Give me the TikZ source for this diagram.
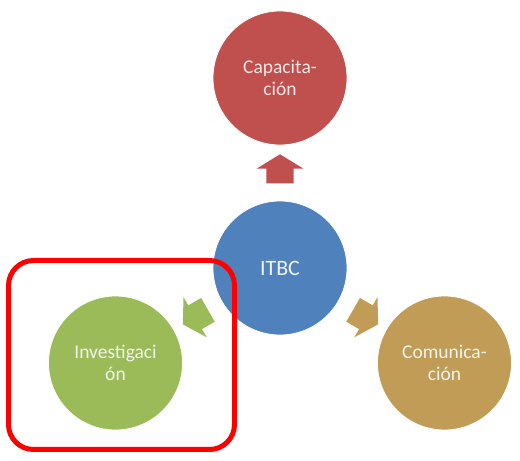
\documentclass[tikz,border=0pt]{standalone}
\usepackage{fontspec}
\setmainfont{Carlito}
\usepackage{xcolor}
\usetikzlibrary{shapes.arrows}

\definecolor{itbcblue}{HTML}{4F81BD}
\definecolor{capred}{HTML}{C0504D}
\definecolor{invgreen}{HTML}{9BBB59}
\definecolor{comgold}{HTML}{C09C56}

\begin{document}
\begin{tikzpicture}[
  x=1pt, y=1pt,
  topic/.style={circle, draw=white, line width=0.8pt, minimum size=134pt, inner sep=0pt,
    align=center, font=\fontsize{19.5}{21.5}\selectfont},
  blockarrow/.style={single arrow, inner xsep=0pt, inner ysep=13.5pt, minimum height=29pt,
    minimum width=46pt, single arrow head extend=9.5pt, single arrow tip angle=117},
  highlight/.style={draw=red, line width=5pt, rounded corners=25pt, inner sep=0pt,
    minimum width=226pt, minimum height=189pt}
]
  \useasboundingbox (0,0) rectangle (520,461);

  % Centre and the three topics, 190pt apart at 90, 210 and 330 degrees
  \node[topic, fill=itbcblue, text=white!92!itbcblue, font=\fontsize{22}{24}\selectfont] (itbc) at (280, 193) {ITBC};
  \node[topic, fill=capred, text=white!85!capred]     (cap) at (280, 383)   {Capacita-\\ción};
  \node[topic, fill=invgreen, text=white!88!invgreen] (inv) at (115.5, 98)  {Investigaci\\ón};
  \node[topic, fill=comgold, text=white!88!comgold]   (com) at (444.5, 98)  {Comunica-\\ción};

  % Block arrows pointing out from the centre
  \node[blockarrow, fill=capred, rotate=90]    (tocap) at (280, 288) {};
  \node[blockarrow, fill=invgreen, rotate=210] (toinv) at (199, 146) {};
  \node[blockarrow, fill=comgold, rotate=-30]  (tocom) at (362, 146) {};

  % Red frame round Investigacion
  \node[highlight] (frame) at (121.5, 106) {};
\end{tikzpicture}
\end{document}
